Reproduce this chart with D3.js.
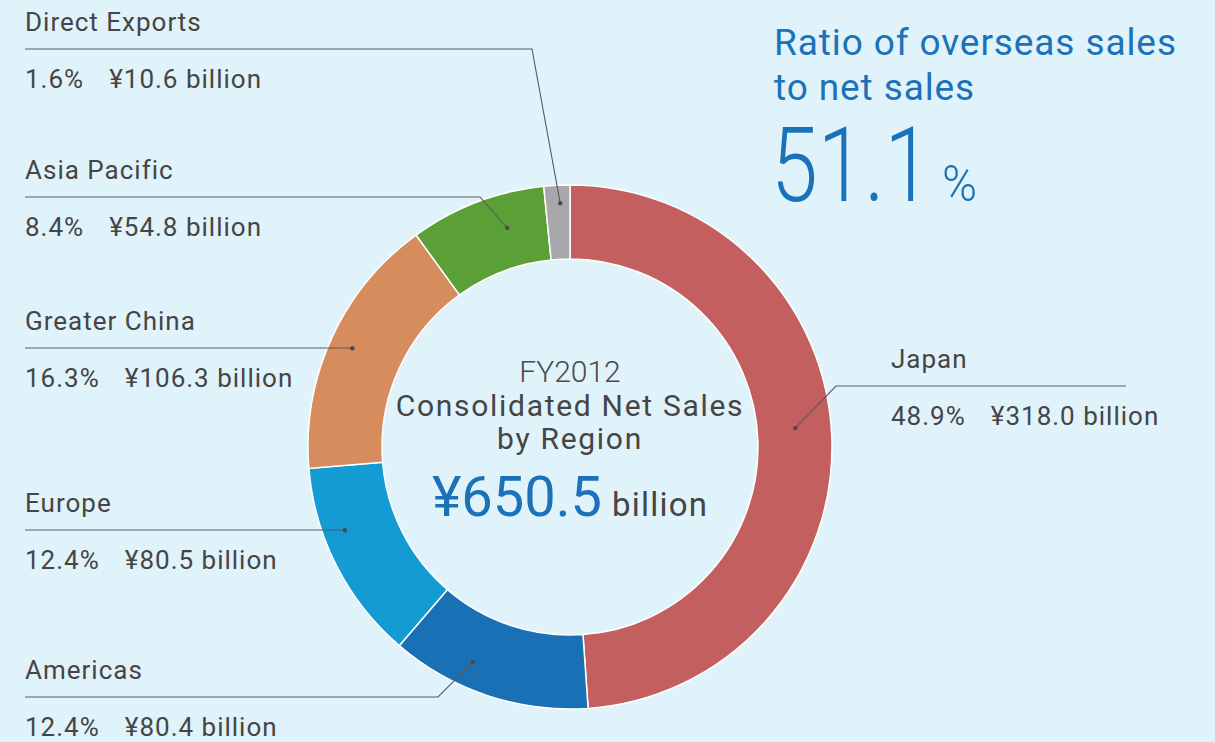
<!DOCTYPE html>
<html>
<head>
<meta charset="utf-8">
<script src="https://cdn.jsdelivr.net/npm/d3@7"></script>
<style>
  html, body { margin: 0; padding: 0; background: #e0f2fa; }
  svg { display: block; }
  text { font-family: Roboto, "Noto Sans", sans-serif; }
</style>
</head>
<body>
<svg id="chart" width="1215" height="742"></svg>
<script>
// FY2012 consolidated net sales by region (¥ billion), clockwise from 12 o'clock
const regions = ["Japan", "Americas", "Europe", "Greater China", "Asia Pacific", "Direct Exports"];
const sales   = [318.0, 80.4, 80.5, 106.3, 54.8, 10.6];
const shares  = [48.9, 12.4, 12.4, 16.3, 8.4, 1.6];
const colors  = ["#c45f60", "#1a70b5", "#149bd3", "#d68c5c", "#5b9f37", "#a8a8ac"];

const totalSales = 650.5;
const overseasRatio = 51.1;

// Callout layout: anchor (angle in degrees clockwise from top, radius),
// optional elbow point, leader line end and text position
const callouts = [
  { anchor: [85.2, 226],  elbow: [836, 386], lineEnd: 1126, textX: 891, lineY: 386 },
  { anchor: [204.3, 236], elbow: [438, 697], lineEnd: 25,   textX: 25,  lineY: 697 },
  { anchor: [249.7, 240], elbow: null,       lineEnd: 25,   textX: 25,  lineY: 530 },
  { anchor: [294.4, 239], elbow: null,       lineEnd: 25,   textX: 25,  lineY: 348 },
  { anchor: [344.0, 228], elbow: [480, 197], lineEnd: 25,   textX: 25,  lineY: 197 },
  { anchor: [357.7, 244], elbow: [532, 49],  lineEnd: 25,   textX: 25,  lineY: 49 }
];

const svg = d3.select("#chart");
const cx = 570, cy = 447;
const outerR = 262, innerR = 188;

const data = regions.map((r, i) => ({ region: r, sales: sales[i], share: shares[i], color: colors[i], co: callouts[i] }));

const pie = d3.pie().value(d => d.share).sort(null);
const arc = d3.arc().innerRadius(innerR).outerRadius(outerR);

const g = svg.append("g").attr("transform", `translate(${cx},${cy})`);
g.selectAll("path.slice")
  .data(pie(data))
  .join("path")
  .attr("class", "slice")
  .attr("d", arc)
  .attr("fill", d => d.data.color)
  .attr("stroke", "#ffffff")
  .attr("stroke-width", 1.5)
  .attr("stroke-linejoin", "miter");

// Leader lines and labels
const textColor = "#454545";
const lineColor = "#5a5a5a";
data.forEach(d => {
  const co = d.co;
  const [ax, ay] = d3.pointRadial(co.anchor[0] * Math.PI / 180, co.anchor[1]);
  const dotX = cx + ax, dotY = cy + ay;
  const pts = [[dotX, dotY]];
  if (co.elbow) pts.push(co.elbow);
  else pts.push([dotX, co.lineY]);
  pts.push([co.lineEnd, co.lineY]);

  svg.append("path")
    .attr("d", d3.line()(pts))
    .attr("fill", "none")
    .attr("stroke", lineColor)
    .attr("stroke-width", 1.1);
  svg.append("circle")
    .attr("cx", dotX).attr("cy", dotY).attr("r", 2.2)
    .attr("fill", "#4a4a4a");

  svg.append("text")
    .attr("x", co.textX).attr("y", co.lineY - 18)
    .attr("font-size", 26)
    .attr("letter-spacing", 1)
    .attr("fill", textColor)
    .text(d.region);

  const v = svg.append("text")
    .attr("x", co.textX).attr("y", co.lineY + 39)
    .attr("font-size", 26)
    .attr("letter-spacing", 1)
    .attr("fill", textColor);
  v.append("tspan").text(d.share.toFixed(1) + "%");
  v.append("tspan").attr("dx", 25).text("¥" + d.sales.toFixed(1) + " billion");
});

// Centre text
const center = svg.append("g").attr("text-anchor", "middle");
center.append("text")
  .attr("x", cx).attr("y", 382)
  .attr("font-size", 30).attr("font-weight", 300)
  .attr("fill", "#4a4a4a")
  .text("FY2012");
center.append("text")
  .attr("x", cx).attr("y", 416)
  .attr("font-size", 30).attr("letter-spacing", 1.7)
  .attr("fill", "#454545")
  .text("Consolidated Net Sales");
center.append("text")
  .attr("x", cx).attr("y", 449)
  .attr("font-size", 30).attr("letter-spacing", 1.7)
  .attr("fill", "#454545")
  .text("by Region");
const tot = center.append("text")
  .attr("x", cx).attr("y", 516);
tot.append("tspan")
  .attr("font-size", 56).attr("fill", "#1b72b8")
  .text("¥" + totalSales.toFixed(1));
tot.append("tspan")
  .attr("dx", 10)
  .attr("font-size", 33).attr("letter-spacing", 1.2).attr("fill", "#454545")
  .text("billion");

// Overseas ratio headline
const blue = "#1b72b8";
svg.append("text")
  .attr("x", 774).attr("y", 55)
  .attr("font-size", 37).attr("letter-spacing", 0.9).attr("fill", blue)
  .text("Ratio of overseas sales");
svg.append("text")
  .attr("x", 774).attr("y", 100)
  .attr("font-size", 37).attr("letter-spacing", 0.9).attr("fill", blue)
  .text("to net sales");
svg.append("text")
  .attr("transform", "translate(771,201) scale(0.81,1)")
  .attr("font-size", 104).attr("font-weight", 300)
  .attr("fill", blue)
  .text(overseasRatio.toFixed(1));
svg.append("text")
  .attr("transform", "translate(942,201) scale(0.95,1)")
  .attr("font-size", 50).attr("font-weight", 300)
  .attr("fill", blue)
  .text("%");
</script>
</body>
</html>
